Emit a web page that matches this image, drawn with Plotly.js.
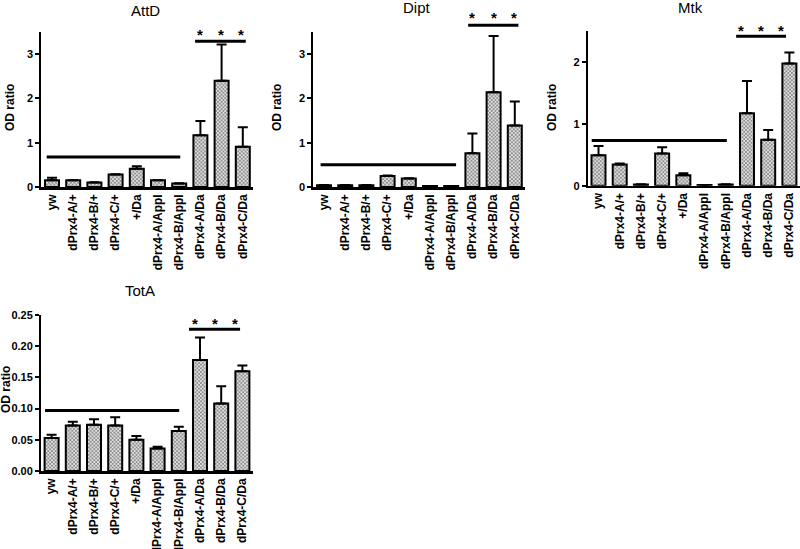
<!DOCTYPE html>
<html>
<head>
<meta charset="utf-8">
<script src="https://cdn.plot.ly/plotly-3.0.1.min.js"></script>
<style>html,body{margin:0;padding:0;background:#fff;}#chart{width:800px;height:549px;}</style>
</head>
<body>
<div id="chart"></div>
<script>
// ---- data ----
const categories = ['yw','dPrx4-A/+','dPrx4-B/+','dPrx4-C/+','+/Da','dPrx4-A/Appl','dPrx4-B/Appl','dPrx4-A/Da','dPrx4-B/Da','dPrx4-C/Da'];
const panelTitles = ['AttD','Dipt','Mtk','TotA'];

const attdMean = [0.15, 0.15, 0.10, 0.28, 0.41, 0.15, 0.08, 1.17, 2.40, 0.91];
const attdErr  = [0.06, 0.005, 0.005, 0.01, 0.06, 0.005, 0.005, 0.32, 0.82, 0.44];

const diptMean = [0.04, 0.04, 0.04, 0.25, 0.19, 0.02, 0.02, 0.76, 2.14, 1.39];
const diptErr  = [0.005, 0.005, 0.005, 0.01, 0.01, 0, 0, 0.45, 1.27, 0.54];

const mtkMean = [0.49, 0.34, 0.02, 0.52, 0.17, 0.01, 0.02, 1.17, 0.74, 1.97];
const mtkErr  = [0.15, 0.02, 0.005, 0.10, 0.03, 0, 0.005, 0.52, 0.16, 0.18];

const totaMean = [0.053, 0.073, 0.074, 0.073, 0.050, 0.036, 0.064, 0.178, 0.108, 0.160];
const totaErr  = [0.005, 0.006, 0.009, 0.013, 0.006, 0.003, 0.007, 0.036, 0.028, 0.009];

// significance brackets: [x0, x1, y] in category index / data units
const baseLine = [[-0.25, 6.05, 0.68], [-0.16, 6.23, 0.50], [-0.32, 6.05, 0.73], [-0.31, 6.02, 0.097]];
const starLine = [[6.75, 9.14, 3.29], [6.8, 9.17, 3.65], [6.49, 8.84, 2.41], [6.48, 8.89, 0.227]];
const starX = [[7.0, 7.95, 8.9], [7.0, 8.0, 8.98], [6.72, 7.66, 8.6], [6.76, 7.7, 8.65]];
const starY = [3.44, 3.82, 2.50, 0.236];

const yTicks = [[0,1,2,3], [0,1,2,3], [0,1,2], [0,0.05,0.10,0.15,0.20,0.25]];
const yRanges = [[0,3.5],[0,3.5],[0,2.5],[0,0.25]];

// ---- layout (pixel placement) ----
const W = 800, H = 549;
const px = v => v / W;
const py = v => 1 - v / H;
const xDomains = [[px(41.4), px(253.4)], [px(313.4), px(525.4)], [px(587.9), 1.0], [px(41), px(253)]];
const yDomains = [[py(187), py(32)], [py(187), py(32)], [py(185.7), py(30.7)], [py(471), py(315)]];
const titlePos = [[145, 11], [417, 8], [690, 8], [140, 290]];
const yTitlePos = [[10, 108], [277, 108], [552, 108], [6, 390]];

const means = [attdMean, diptMean, mtkMean, totaMean];
const errs = [attdErr, diptErr, mtkErr, totaErr];

const FONT = 'Liberation Sans, Arial, sans-serif';
const data = [];
const layout = {
  width: W, height: H,
  margin: {l: 0, r: 0, t: 0, b: 0},
  paper_bgcolor: '#fff', plot_bgcolor: 'rgba(0,0,0,0)',
  showlegend: false,
  bargap: 0.34,
  font: {family: FONT, color: '#000'},
  shapes: [], annotations: []
};

function toPaperY(i, v) {
  const d = yDomains[i], r = yRanges[i];
  return d[0] + (v - r[0]) / (r[1] - r[0]) * (d[1] - d[0]);
}

for (let i = 0; i < 4; i++) {
  const sx = i === 0 ? '' : String(i + 1);
  data.push({
    type: 'bar',
    x: categories,
    y: means[i],
    xaxis: 'x' + sx, yaxis: 'y' + sx,
    marker: {
      color: '#ffffff',
      line: {color: '#000', width: 2},
      pattern: {shape: 'x', fgcolor: '#111', bgcolor: '#fff', size: 2.6, solidity: 0.6, fillmode: 'overlay'}
    },
    error_y: {type: 'data', symmetric: false, array: errs[i], arrayminus: errs[i].map(() => 0),
              color: '#000', thickness: 2, width: 5},
    hoverinfo: 'skip'
  });
  layout['xaxis' + sx] = {
    domain: xDomains[i], anchor: 'y' + sx,
    type: 'category', range: [-0.5, 9.5],
    showline: true, linecolor: '#000', linewidth: 2.5,
    ticks: '', tickangle: -90,
    tickfont: {family: FONT, size: 12, color: '#000', weight: 'bold'},
    showgrid: false, zeroline: false, fixedrange: true
  };
  layout['yaxis' + sx] = {
    domain: yDomains[i], anchor: 'x' + sx,
    range: yRanges[i],
    tickmode: 'array', tickvals: yTicks[i],
    ticktext: yTicks[i].map(v => i === 3 ? v.toFixed(2) : String(v)),
    showline: true, linecolor: '#000', linewidth: 2,
    ticks: 'outside', ticklen: 4, tickwidth: 2, tickcolor: '#000',
    tickfont: {family: FONT, size: 11, color: '#000', weight: 'bold'},
    showgrid: false, zeroline: false, fixedrange: true
  };
  // bracket lines
  const xr = 'x' + sx;
  layout.shapes.push({type: 'line', xref: xr, yref: 'paper',
    x0: baseLine[i][0], x1: baseLine[i][1], y0: toPaperY(i, baseLine[i][2]), y1: toPaperY(i, baseLine[i][2]),
    line: {color: '#000', width: 3}});
  layout.shapes.push({type: 'line', xref: xr, yref: 'paper',
    x0: starLine[i][0], x1: starLine[i][1], y0: toPaperY(i, starLine[i][2]), y1: toPaperY(i, starLine[i][2]),
    line: {color: '#000', width: 3}});
  starX[i].forEach(x => layout.annotations.push({
    xref: xr, yref: 'paper', x: x, y: toPaperY(i, starY[i]),
    text: '*', showarrow: false, font: {family: FONT, size: 15, color: '#000', weight: 'bold'},
    xanchor: 'center', yanchor: 'middle'
  }));
  // panel title
  layout.annotations.push({
    xref: 'paper', yref: 'paper', x: px(titlePos[i][0]), y: py(titlePos[i][1]),
    text: panelTitles[i], showarrow: false, xanchor: 'center', yanchor: 'middle',
    font: {family: FONT, size: 15, color: '#000'}
  });
  // y-axis title
  layout.annotations.push({
    xref: 'paper', yref: 'paper', x: px(yTitlePos[i][0]), y: py(yTitlePos[i][1]),
    text: 'OD ratio', showarrow: false, textangle: -90, xanchor: 'center', yanchor: 'middle',
    font: {family: FONT, size: 12, color: '#000', weight: 'bold'}
  });
}

Plotly.newPlot('chart', data, layout, {staticPlot: true, displayModeBar: false});
</script>
</body>
</html>
